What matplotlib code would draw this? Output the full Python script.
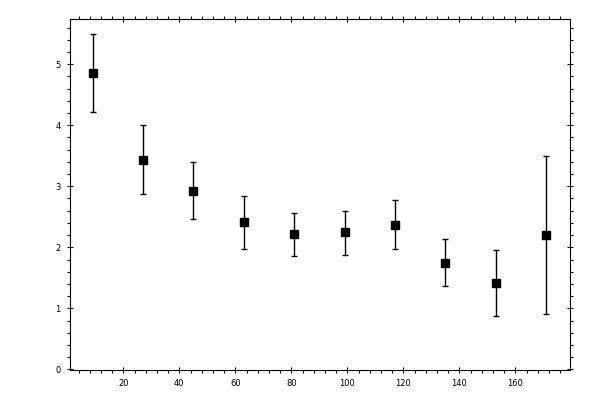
import matplotlib
matplotlib.use("Agg")
import matplotlib.pyplot as plt
from matplotlib.ticker import MultipleLocator

# values
x_vals = [9, 27, 45, 63, 81, 99, 117, 135, 153, 171]
y_vals = [4.85, 3.43, 2.92, 2.41, 2.21, 2.25, 2.36, 1.75, 1.41, 2.20]
y_low = [4.21, 2.87, 2.46, 1.97, 1.85, 1.87, 1.97, 1.36, 0.87, 0.91]
y_high = [5.49, 4.00, 3.39, 2.84, 2.57, 2.60, 2.77, 2.13, 1.95, 3.50]

err_lo = [y - lo for y, lo in zip(y_vals, y_low)]
err_hi = [hi - y for y, hi in zip(y_vals, y_high)]

fig = plt.figure(figsize=(6, 4), dpi=100)
ax = fig.add_axes([0.116, 0.075, 0.834, 0.8775])

ax.errorbar(x_vals, y_vals, yerr=[err_lo, err_hi], fmt='s', color='black',
            markersize=5.3, elinewidth=1, capsize=2.5, capthick=1)

ax.set_xlim(0.8, 179.5)
ax.set_ylim(-0.01, 5.74)

ax.xaxis.set_major_locator(MultipleLocator(20))
ax.xaxis.set_minor_locator(MultipleLocator(4))
ax.yaxis.set_major_locator(MultipleLocator(1))
ax.yaxis.set_minor_locator(MultipleLocator(0.2))

for side in ax.spines.values():
    side.set_linewidth(0.8)

ax.tick_params(which='major', direction='inout', length=5, width=0.8,
               top=True, right=True, labelsize=6, pad=4)
ax.tick_params(which='minor', direction='out', length=2.5, width=0.8,
               top=True, right=True)

ax.set_xticks([t for t in range(20, 180, 20)])

plt.savefig("out.png", dpi=100)
